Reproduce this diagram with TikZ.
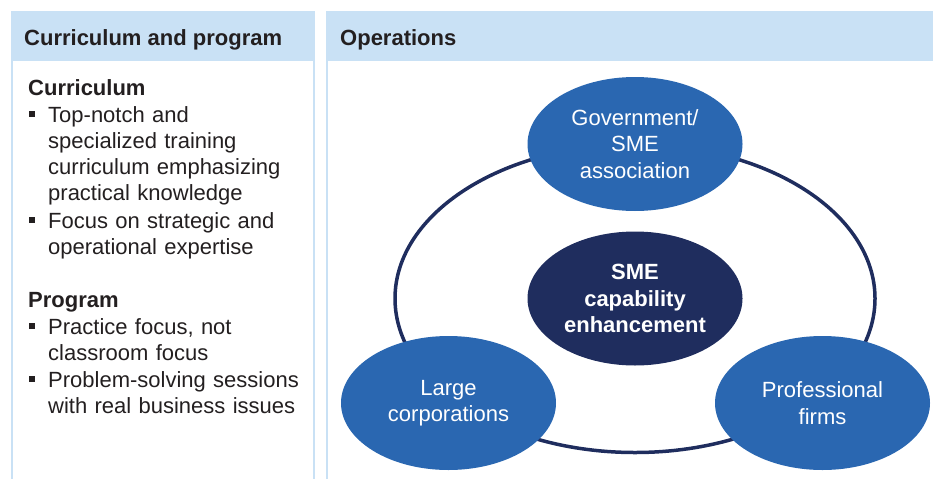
\documentclass[tikz,border=0pt]{standalone}
\usepackage{fontspec}
\setmainfont{Liberation Sans}
\usetikzlibrary{shapes.geometric}
\definecolor{hdrblue}{HTML}{C9E1F5}
\definecolor{ovalblue}{HTML}{2A67B1}
\definecolor{navy}{HTML}{1F2D5E}
\definecolor{ink}{HTML}{231F20}

\begin{document}
\begin{tikzpicture}[x=1pt,y=-1pt,
    txt/.style={anchor=base west,inner sep=0,text=ink,font=\fontsize{22}{26.3}\selectfont},
    item/.style={txt,text width=270pt,align=left},
    bul/.style={fill=ink,minimum size=6pt,inner sep=0},
    oval/.style={ellipse,fill=ovalblue,minimum width=215pt,minimum height=134pt,inner sep=0,
        text=white,align=center,font=\fontsize{22}{26.5}\selectfont},
    ring/.style={navy,line width=3.5pt}]
        \useasboundingbox (0,0) rectangle (933,479);
        % panels
        \fill[hdrblue] (11,11) rectangle (315,61);
        \fill[hdrblue] (326,11) rectangle (933,61);
        \draw[hdrblue,line width=2pt] (12,61) -- (12,479) (314,61) -- (314,479);
        \draw[hdrblue,line width=2pt] (327,61) -- (327,479);
        \node[txt,font=\fontsize{22}{26.3}\selectfont\bfseries] (hcur) at (24,45) {Curriculum and program};
        \node[txt,font=\fontsize{22}{26.3}\selectfont\bfseries] (hops) at (340,45) {Operations};
        % left column
        \node[txt,font=\fontsize{22}{26.3}\selectfont\bfseries] (scur) at (28,95) {Curriculum};
        \node[item] (i1) at (48,122) {Top-notch and\\specialized training\\curriculum emphasizing\\practical knowledge};
        \node[item] (i2) at (48,228) {Focus on strategic and\\operational expertise};
        \node[txt,font=\fontsize{22}{26.3}\selectfont\bfseries] (sprog) at (28,307) {Program};
        \node[item] (i3) at (48,334) {Practice focus, not\\classroom focus};
        \node[item] (i4) at (48,387) {Problem-solving sessions\\with real business issues};
        \foreach \i in {i1,i2,i3,i4}
            \node[bul] at ([xshift=-16pt,yshift=8.5pt]\i.base west) {};
        % operations
        \coordinate (hub) at (635,298.5);
        \draw[ring] (hub) ellipse [x radius=240, y radius=154];
        \node[oval,fill=navy,font=\fontsize{22}{26.5}\selectfont\bfseries] (core) at (hub) {SME\\capability\\enhancement};
        \node[oval] (gov) at (635,144) {Government/\\SME\\association};
        \node[oval] (corp) at (448.5,403) {Large\\corporations};
        \node[oval] (firm) at (822.5,403) {Professional\\firms};
    \end{tikzpicture}
\end{document}
